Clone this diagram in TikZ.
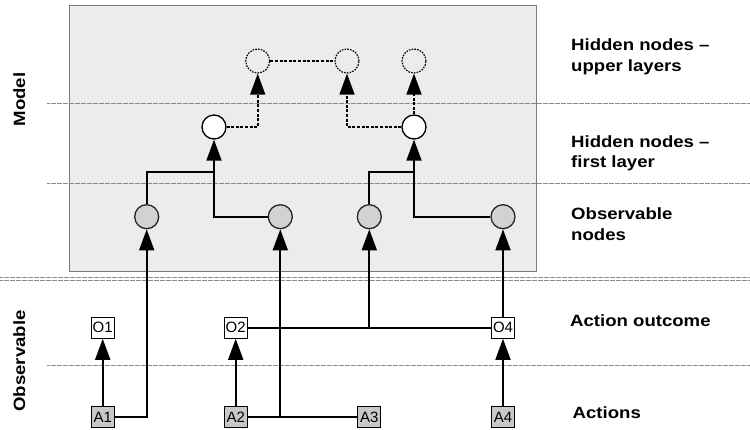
\documentclass[tikz,border=0pt]{standalone}
\usepackage{fontspec}
\setmainfont{Liberation Sans}
\usetikzlibrary{arrows.meta}
\definecolor{boxbg}{HTML}{ECECEC}
\definecolor{boxframe}{HTML}{7A7A7A}
\definecolor{obsfill}{HTML}{D2D2D2}
\definecolor{actfill}{HTML}{C8C8C8}
\definecolor{sepline}{HTML}{8C8C8C}
\newcommand{\mylbl}[1]{\scalebox{1.14}[1]{#1}}
\begin{document}
\begin{tikzpicture}[x=1pt,y=-1pt,
  conn/.style={line width=1.8pt,draw=black},
  dconn/.style={line width=1.6pt,draw=black,dash pattern=on 3pt off 1.6pt},
  arr/.style={-{Triangle[length=21pt,width=15pt]}},
  sep/.style={draw=sepline,line width=0.9pt,dash pattern=on 0.7pt off 0.5pt},
  obs/.style={circle,minimum size=24pt,inner sep=0pt,fill=obsfill,draw=black!85,line width=1.3pt},
  hid/.style={circle,minimum size=24pt,inner sep=0pt,fill=white,draw=black,line width=1.3pt},
  upp/.style={circle,minimum size=24pt,inner sep=0pt,draw=black,line width=1.2pt,dash pattern=on 1.6pt off 1.2pt},
  obox/.style={draw=black,line width=1pt,fill=white,minimum width=23pt,minimum height=21pt,inner sep=0pt,font=\fontsize{15}{15}\selectfont},
  abox/.style={obox,fill=actfill},
  lbl/.style={anchor=base west,inner sep=0pt,font=\fontsize{16.3}{19}\selectfont\bfseries},
  side/.style={anchor=base,rotate=90,inner sep=0pt,font=\fontsize{16.3}{19}\selectfont\bfseries}]
\useasboundingbox (0,0) rectangle (750,429);
% model box
\fill[boxbg] (69,5) rectangle (536.5,271.5);
\draw[boxframe,line width=1pt] (69,5) rectangle (536.5,271.5);
% separator lines
\draw[sep] (47,103) -- (750,103);
\draw[sep] (47,183) -- (750,183);
\draw[sep] (0,277) -- (750,277);
\draw[sep] (0,280.8) -- (750,280.8);
\draw[sep] (47,365.7) -- (750,365.7);
% nodes
\node[upp] (u1) at (257.7,61) {};
\node[upp] (u2) at (347,61) {};
\node[upp] (u3) at (414,61) {};
\node[hid] (w1) at (214,127) {};
\node[hid] (w2) at (414,127) {};
\node[obs] (g1) at (146.7,216.7) {};
\node[obs] (g2) at (280.3,216.7) {};
\node[obs] (g3) at (369.3,216.7) {};
\node[obs] (g4) at (503,216.7) {};
\node[obox] (O1) at (102.7,327.8) {O1};
\node[obox] (O2) at (235.7,327.8) {O2};
\node[obox] (O4) at (503,327.8) {O4};
\node[abox] (A1) at (102.7,417) {A1};
\node[abox] (A2) at (235.7,417) {A2};
\node[abox] (A3) at (369.3,417) {A3};
\node[abox] (A4) at (503,417) {A4};
\coordinate (j1) at (214,172);
\coordinate (j2) at (414,172);
\coordinate (j3) at (280.3,417);
\coordinate (j4) at (369.3,327.8);
% upper connectors
\draw[conn,arr] (g2.west) -| (w1.south);
\draw[conn] (g1.north) |- (j1);
\draw[conn,arr] (g4.west) -| (w2.south);
\draw[conn] (g3.north) |- (j2);
\draw[dconn,arr] (w1.east) -| (u1.south);
\draw[dconn,arr] (w2.west) -| (u2.south);
\draw[dconn,arr] (w2.north) -- (u3.south);
\draw[dconn] (u1.east) -- (u2.west);
% lower connectors
\draw[conn,arr] (A1.north) -- (O1.south);
\draw[conn,arr] (A1.east) -| (g1.south);
\draw[conn,arr] (A2.north) -- (O2.south);
\draw[conn] (A2.east) -- (A3.west);
\draw[conn,arr] (j3) -- (g2.south);
\draw[conn] (O2.east) -- (O4.west);
\draw[conn,arr] (j4) -- (g3.south);
\draw[conn,arr] (A4.north) -- (O4.south);
\draw[conn,arr] (O4.north) -- (g4.south);
% labels
\node[lbl] (t1) at (571,50.7) {\mylbl{Hidden nodes –}};
\node[lbl] (t2) at (571,71.7) {\mylbl{upper layers}};
\node[lbl] (t3) at (571,147.3) {\mylbl{Hidden nodes –}};
\node[lbl] (t4) at (571,167.7) {\mylbl{first layer}};
\node[lbl] (t5) at (571,219.5) {\mylbl{Observable}};
\node[lbl] (t6) at (571,240) {\mylbl{nodes}};
\node[lbl] (t7) at (570,326) {\mylbl{Action outcome}};
\node[lbl] (t8) at (572.5,418.3) {\mylbl{Actions}};
\node[side] (s1) at (25,99.5) {\mylbl{Model}};
\node[side] (s2) at (25,361) {\mylbl{Observable}};
\end{tikzpicture}
\end{document}
